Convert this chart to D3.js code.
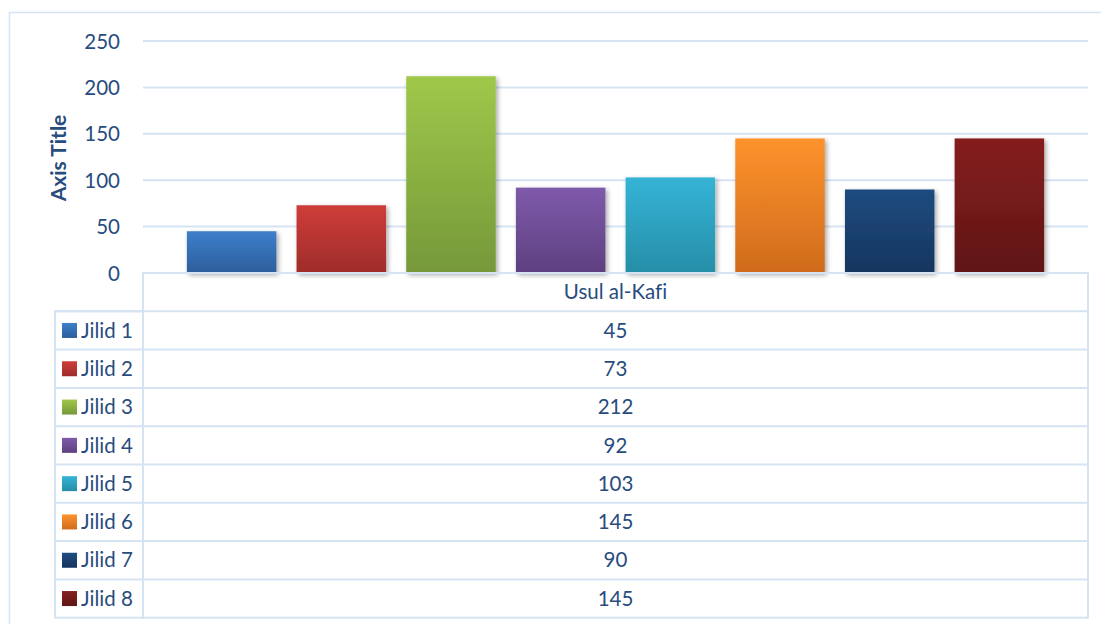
<!DOCTYPE html>
<html><head><meta charset="utf-8">
<script src="https://cdn.jsdelivr.net/npm/d3@7"></script>
<style>html,body{margin:0;padding:0;background:#fff;}svg{display:block;font-family:Lato,"Open Sans",sans-serif;font-variant-ligatures:none;}</style>
</head><body>
<svg id="c" width="1101" height="624"></svg>
<script>
const categories = ["Usul al-Kafi"];
const seriesNames = ["Jilid 1","Jilid 2","Jilid 3","Jilid 4","Jilid 5","Jilid 6","Jilid 7","Jilid 8"];
const seriesValues = [45, 73, 212, 92, 103, 145, 90, 145];
const yTicks = [0, 50, 100, 150, 200, 250];
const colorsTop = ["#3d7fcb","#cf3d39","#9fc84a","#7f5aab","#35b4d6","#fe932c","#1f4c80","#861f1f"];
const colorsBottom = ["#2d5e9c","#9e2c2a","#76983a","#5e4080","#268ea8","#cf6b1c","#15355e","#5f1515"];
const axisTitle = "Axis Title";

const svg = d3.select("#c");
const txt = "#284c7e", line = "#d6e3f3";
const FS = 20.5;
const L = 143, R = 1088, T = 41, B = 273;
const rowH = 38.3, legL = 55;

// outer border
svg.append("path").attr("d", `M9.5,630 V12.5 H1110`).attr("fill","none").attr("stroke", line).attr("stroke-width",1.5);

const defs = svg.append("defs");
const f = defs.append("filter").attr("id","sh").attr("x","-20%").attr("y","-20%").attr("width","150%").attr("height","150%");
f.append("feGaussianBlur").attr("in","SourceAlpha").attr("stdDeviation",2.5).attr("result","b");
f.append("feOffset").attr("in","b").attr("dx",2).attr("dy",2).attr("result","o");
f.append("feComponentTransfer").attr("in","o").attr("result","o2").append("feFuncA").attr("type","linear").attr("slope",0.35);
const m = f.append("feMerge"); m.append("feMergeNode").attr("in","o2"); m.append("feMergeNode").attr("in","SourceGraphic");
seriesNames.forEach((s,i)=>{
  const g = defs.append("linearGradient").attr("id","g"+i).attr("x1",0).attr("y1",0).attr("x2",0).attr("y2",1);
  g.append("stop").attr("offset","0").attr("stop-color",colorsTop[i]);
  g.append("stop").attr("offset","1").attr("stop-color",colorsBottom[i]);
});

const y = d3.scaleLinear().domain([0,250]).range([B,T]);
const x0 = d3.scaleBand().domain(categories).range([L,R]);
const x1 = d3.scaleBand().domain(seriesNames).range([x0(categories[0]), x0(categories[0])+x0.bandwidth()]).paddingInner(0.184).paddingOuter(0.4);

// gridlines
svg.append("g").selectAll("line").data(yTicks.filter(t=>t>0)).join("line")
  .attr("x1",L).attr("x2",R).attr("y1",d=>y(d)).attr("y2",d=>y(d))
  .attr("stroke",line).attr("stroke-width",2);

// y axis labels
const ya = svg.append("g").attr("transform",`translate(120,0)`)
  .call(d3.axisLeft(y).tickValues(yTicks).tickSize(0).tickPadding(0));
ya.select(".domain").remove();
ya.selectAll("text").attr("fill",txt).attr("font-size",FS).attr("font-family","Lato,'Open Sans',sans-serif").attr("dy","0.35em");

svg.append("text").attr("transform",`translate(66,158) rotate(-90)`).attr("text-anchor","middle")
  .attr("fill",txt).attr("font-size",21).attr("font-weight","bold").text(axisTitle);

// bars
svg.append("g").selectAll("rect").data(seriesValues).join("rect")
  .attr("x",(d,i)=>x1(seriesNames[i])).attr("width",x1.bandwidth())
  .attr("y",d=>y(d)).attr("height",d=>y(0)-y(d))
  .attr("fill",(d,i)=>`url(#g${i})`).attr("filter","url(#sh)");

// data table
const tg = svg.append("g");
const tableBottom = B + rowH*(seriesNames.length+1);
tg.append("rect").attr("x",L).attr("y",B).attr("width",R-L).attr("height",tableBottom-B)
  .attr("fill","none").attr("stroke",line).attr("stroke-width",2);
tg.append("rect").attr("x",legL).attr("y",B+rowH).attr("width",L-legL).attr("height",tableBottom-B-rowH)
  .attr("fill","none").attr("stroke",line).attr("stroke-width",2);
seriesNames.forEach((s,i)=>{
  const ry = B + rowH*(i+1);
  tg.append("line").attr("x1",legL).attr("x2",R).attr("y1",ry).attr("y2",ry).attr("stroke",line).attr("stroke-width",2);
});
tg.append("text").attr("x",(L+R)/2).attr("y",B+rowH/2).attr("dy","0.35em").attr("text-anchor","middle")
  .attr("fill",txt).attr("font-size",FS).text(categories[0]);
seriesNames.forEach((s,i)=>{
  const cy = B + rowH*(i+1.5);
  tg.append("rect").attr("x",62).attr("y",cy-7.5).attr("width",15).attr("height",15).attr("fill",`url(#g${i})`);
  tg.append("text").attr("x",81).attr("y",cy).attr("dy","0.35em").attr("fill",txt).attr("font-size",FS).text(s);
  tg.append("text").attr("x",(L+R)/2).attr("y",cy).attr("dy","0.35em").attr("text-anchor","middle")
    .attr("fill",txt).attr("font-size",FS).text(seriesValues[i]);
});
</script>
</body></html>
